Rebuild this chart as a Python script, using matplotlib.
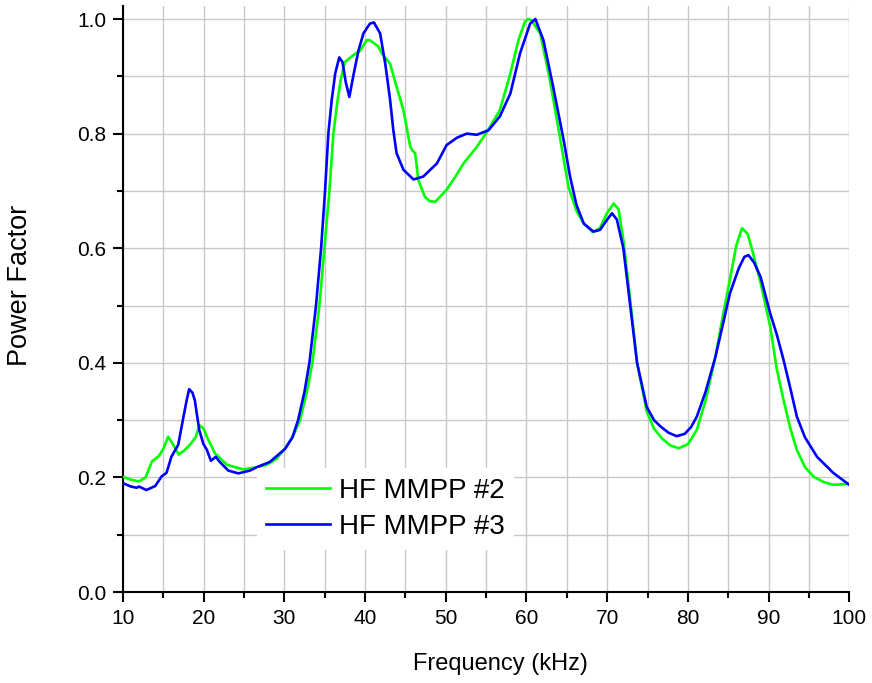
import numpy as np
import matplotlib
matplotlib.use("Agg")
import matplotlib.pyplot as plt
from matplotlib.ticker import MultipleLocator

plt.rcParams['font.family'] = ['Liberation Sans', 'DejaVu Sans']

# HF MMPP #2 (gruen)
freq2 = [10, 11, 12, 12.8, 13.6, 14.5, 15.0, 15.6, 16.2, 16.9, 17.6, 18.3, 19.0, 19.5, 20.0,
         20.4, 21.4, 22.9, 24.9, 26.6, 27.8, 29, 30.1, 31.0, 31.94, 32.8, 33.47, 34.34,
         34.96, 35.58, 36.07, 36.6, 37.0, 37.5, 38.55, 39.4, 40.2, 40.6, 41.65, 42.07,
         43.1, 43.9, 44.75, 45.6, 45.9, 46.2, 46.6, 47.4, 48.0, 48.7, 50.1, 51.2, 52.2,
         53.85, 55.1, 56.7, 58.0, 59.0, 59.8, 60.2, 60.6, 61.7, 62.9, 64.2, 65.2, 66.2,
         67.1, 68.2, 69.1, 70.0, 70.8, 71.4, 72.0, 72.85, 73.7, 74.9, 75.8, 76.8, 77.8,
         78.85, 80.0, 81.1, 82.2, 83.4, 84.3, 85.2, 86.0, 86.7, 87.4, 88.0, 89.0, 90.2,
         91.0, 91.85, 92.7, 93.5, 94.5, 95.6, 96.8, 98.05, 100]
pf2 = [0.201, 0.196, 0.193, 0.200, 0.228, 0.238, 0.250, 0.271, 0.258, 0.240, 0.247, 0.257,
       0.270, 0.291, 0.285, 0.271, 0.242, 0.222, 0.214, 0.218, 0.222, 0.232, 0.251, 0.270,
       0.300, 0.350, 0.400, 0.500, 0.600, 0.700, 0.800, 0.859, 0.895, 0.925, 0.937, 0.945,
       0.963, 0.963, 0.952, 0.940, 0.922, 0.882, 0.841, 0.777, 0.770, 0.766, 0.719, 0.690,
       0.682, 0.681, 0.702, 0.725, 0.748, 0.777, 0.803, 0.841, 0.905, 0.963, 0.995, 1.0,
       0.998, 0.975, 0.894, 0.789, 0.707, 0.665, 0.643, 0.628, 0.635, 0.662, 0.678, 0.668,
       0.615, 0.510, 0.400, 0.315, 0.285, 0.268, 0.256, 0.251, 0.258, 0.283, 0.335, 0.410,
       0.480, 0.545, 0.605, 0.635, 0.625, 0.595, 0.540, 0.463, 0.390, 0.335, 0.285, 0.248,
       0.218, 0.201, 0.192, 0.187, 0.189]

# HF MMPP #3 (blau)
freq3 = [10, 11.0, 11.7, 12.0, 12.9, 14.0, 14.8, 15.4, 16.0, 16.85, 17.5, 17.9, 18.2,
         18.6, 18.9, 19.45, 19.95, 20.4, 20.9, 21.5, 22.0, 23.05, 24.3, 25.75, 26.6, 28.2,
         30.1, 31.0, 31.7, 32.5, 33.1, 33.92, 34.55, 35.04, 35.45, 35.87, 36.3, 36.8, 37.2,
         37.6, 38.05, 38.6, 39.2, 39.8, 40.6, 41.1, 41.86, 42.5, 43.1, 43.5, 43.9, 44.75,
         46.0, 47.2, 48.9, 50.1, 51.4, 52.6, 53.85, 55.3, 56.7, 58.0, 59.2, 60.45, 61.1,
         62.1, 63.3, 64.6, 65.4, 66.2, 67.1, 68.3, 69.1, 70.0, 70.6, 71.2, 72.0, 72.85,
         73.7, 74.9, 75.8, 76.6, 77.6, 78.6, 79.6, 80.4, 81.1, 82.2, 83.4, 84.3, 85.2,
         86.3, 87.0, 87.5, 88.2, 89.0, 90.2, 91.0, 91.85, 92.7, 93.5, 94.5, 96.0, 98.0, 100]
pf3 = [0.190, 0.184, 0.182, 0.184, 0.178, 0.185, 0.202, 0.208, 0.236, 0.257, 0.306,
       0.335, 0.354, 0.348, 0.335, 0.283, 0.259, 0.248, 0.229, 0.236, 0.227, 0.212, 0.207,
       0.212, 0.218, 0.227, 0.250, 0.270, 0.300, 0.350, 0.400, 0.500, 0.600, 0.700, 0.800,
       0.859, 0.905, 0.933, 0.925, 0.890, 0.864, 0.905, 0.946, 0.975, 0.992, 0.994, 0.975,
       0.922, 0.859, 0.806, 0.766, 0.737, 0.720, 0.725, 0.748, 0.780, 0.793, 0.800, 0.798,
       0.806, 0.830, 0.870, 0.940, 0.992, 1.0, 0.963, 0.882, 0.789, 0.725, 0.675, 0.643,
       0.629, 0.632, 0.650, 0.661, 0.650, 0.600, 0.500, 0.400, 0.323, 0.300, 0.289, 0.278,
       0.272, 0.276, 0.288, 0.306, 0.350, 0.410, 0.465, 0.521, 0.565, 0.585, 0.588, 0.575,
       0.550, 0.486, 0.450, 0.405, 0.355, 0.306, 0.270, 0.236, 0.208, 0.187]

fig = plt.figure(figsize=(8.72, 6.83), dpi=100)
ax = fig.add_axes([0.141, 0.1332, 0.833, 0.858])

ax.plot(freq2, pf2, color='#00ff00', lw=1.9, label='HF MMPP #2', zorder=3)
ax.plot(freq3, pf3, color='#0000ff', lw=1.9, label='HF MMPP #3', zorder=4)

ax.set_xlim(10, 100)
ax.set_ylim(0, 1.0227)
ax.xaxis.set_major_locator(MultipleLocator(10))
ax.xaxis.set_minor_locator(MultipleLocator(5))
ax.yaxis.set_minor_locator(MultipleLocator(0.1))
ax.set_yticks([0.0, 0.2, 0.4, 0.6, 0.8, 1.0])
ax.set_yticklabels(['0.0', '0.2', '0.4', '0.6', '0.8', '1.0'])

ax.grid(which='both', color='#c8c8c8', lw=1.0, zorder=0)
ax.set_axisbelow(True)

for s in ['top', 'right']:
    ax.spines[s].set_visible(False)
for s in ['left', 'bottom']:
    ax.spines[s].set_linewidth(1.5)

ax.tick_params(which='major', direction='out', length=7, width=1.5, labelsize=15, pad=5)
ax.tick_params(which='minor', direction='out', length=4, width=1.5)

ax.set_xlabel('Frequency (kHz)', fontsize=17)
ax.set_ylabel('Power Factor', fontsize=19.5)
ax.xaxis.set_label_coords(0.519, -0.104)
ax.yaxis.set_label_coords(-0.124, 0.524)

leg = ax.legend(loc='upper left', bbox_to_anchor=(0.184, 0.211), fontsize=20,
                handlelength=2.3, handletextpad=0.3, frameon=True, framealpha=1,
                edgecolor='none', fancybox=False, borderpad=0.35, labelspacing=0.35,
                borderaxespad=0)
leg.get_frame().set_linewidth(0)

plt.savefig('out.png', dpi=100)
